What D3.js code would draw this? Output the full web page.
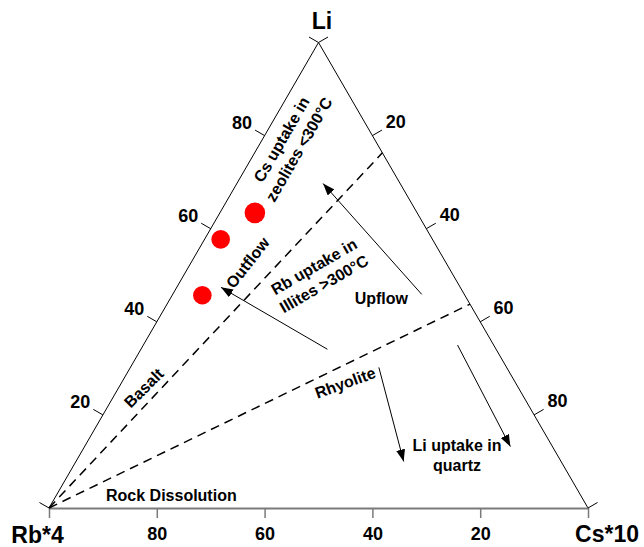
<!DOCTYPE html>
<html>
  <head>
    <meta charset="utf-8">
    <title>Li - Rb - Cs ternary</title>
    <script src="https://d3js.org/d3.v7.min.js"></script>
    <style>
      body { margin: 0; background: #fff; }
      svg { display: block; font-family: "Liberation Sans", Arial, sans-serif; font-weight: bold; }
    </style>
  </head>
  <body>
    <svg id="chart" width="644" height="547"></svg>
    <script>
      // corner names (bottom-left, bottom-right, top)
      const corners = ["Rb*4", "Cs*10", "Li"];
      const tickValues = [0, 20, 40, 60, 80, 100];
      const tickLabels = [20, 40, 60, 80];
      // samples, percent of Li and Cs (Rb is the rest)
      const sampleLi = [63.4, 57.7, 45.7];
      const sampleCs = [6.5, 3.0, 5.6];
      const sampleGroup = ["large", "small", "small"];
      // dashed rock lines, from the Rb corner to the Li-Cs side (Li percent where they meet it)
      const rockLineLi = [76.3, 43.8];
      // process arrows, from -> to
      const arrowFromLi = [45.9, 34.1, 30.2, 35.0];
      const arrowFromCs = [46.2, 34.6, 46.1, 58.3];
      const arrowToLi = [69.7, 47.4, 10.0, 13.2];
      const arrowToCs = [16.0, 8.2, 60.8, 79.0];
      // annotations
      const noteText = [
        ["Cs uptake in", "zeolites <300°C"],
        ["Rb uptake in", "Illites >300°C"],
        ["Outflow"],
        ["Upflow"],
        ["Basalt"],
        ["Rhyolite"],
        ["Li uptake in", "quartz"],
        ["Rock Dissolution"]
      ];
      const noteLi = [78.1, 50.0, 52.7, 45.1, 25.8, 26.9, 11.4, 2.8];
      const noteCs = [5.7, 25.1, 10.5, 39.1, 4.7, 41.5, 70.0, 21.3];
      const noteAngle = [-60, -30, -52, 0, -45, -20, 0, 0];

      svg = d3.select("#chart");
      // x runs along the base, y is Li height
      x = d3.scaleLinear().domain([0, 100]).range([49, 588]);
      y = d3.scaleLinear().domain([0, 100]).range([508, 42.5]);
      rb = d3.scaleLinear().domain([100, 0]).range([49, 588]);
      radius = d3.scaleOrdinal().domain(["large", "small"]).range([10.3, 9.3]);
      function pos(li, cs) { return [x(cs + li / 2), y(li)]; }

      // arrow head
      svg.append("defs").append("marker")
          .attr("id", "head")
          .attr("markerUnits", "userSpaceOnUse")
          .attr("markerWidth", 14)
          .attr("markerHeight", 10)
          .attr("refX", 12)
          .attr("refY", 4.5)
          .attr("orient", "auto")
        .append("path")
          .attr("d", "M0,0L12,4.5L0,9Z")
          .attr("fill", "#000");

      // side edges
      line = d3.line();
      svg.append("path")
        .attr("d", line([pos(0, 0), pos(100, 0), pos(0, 100)]))
        .attr("fill", "none")
        .attr("stroke", "#000")
        .attr("stroke-width", 1);

      // bottom axis (Rb)
      axis = d3.axisBottom(rb)
        .tickValues(tickValues)
        .tickSize(10)
        .tickSizeOuter(0)
        .tickPadding(9)
        .tickFormat(function(d) { return tickLabels.includes(d) ? d : ""; });
      axisGroup = svg.append("g")
        .attr("transform", "translate(0," + y(0) + ")")
        .call(axis);
      axisGroup.attr("font-family", null).attr("font-size", null);
      axisGroup.select(".domain").attr("stroke", "#7a7a7a").attr("stroke-width", 2);
      axisGroup.selectAll(".tick line").attr("stroke", "#7a7a7a").attr("stroke-width", 1.5);
      axisGroup.selectAll(".tick text").attr("fill", "#000").style("font-size", "18px");

      // side ticks: Li on the left, Cs on the right
      sides = [
        { at: function(t) { return pos(t, 0); }, n: [-0.866, -0.5], off: 26 },
        { at: function(t) { return pos(100 - t, t); }, n: [0.866, -0.5], off: 27 }
      ];
      sides.forEach(function(s) {
        g = svg.append("g");
        g.selectAll("line")
            .data(tickValues)
          .enter().append("line")
            .attr("x1", function(d) { return s.at(d)[0]; })
            .attr("y1", function(d) { return s.at(d)[1]; })
            .attr("x2", function(d) { return s.at(d)[0] + s.n[0] * 11; })
            .attr("y2", function(d) { return s.at(d)[1] + s.n[1] * 11; })
            .attr("stroke", "#000");
        g.selectAll("text")
            .data(tickLabels)
          .enter().append("text")
            .attr("x", function(d) { return s.at(d)[0] + s.n[0] * s.off; })
            .attr("y", function(d) { return s.at(d)[1] + s.n[1] * s.off; })
            .attr("text-anchor", "middle")
            .attr("dominant-baseline", "central")
            .style("font-size", "18px")
            .text(function(d) { return d; });
      });

      // corner labels
      cornerPos = [pos(0, 0), pos(0, 100), pos(100, 0)];
      cornerOff = [[-11.5, 27], [19, 26], [3.5, -22]];
      svg.selectAll(".corner")
          .data(corners)
        .enter().append("text")
          .classed("corner", true)
          .attr("x", function(d, i) { return cornerPos[i][0] + cornerOff[i][0]; })
          .attr("y", function(d, i) { return cornerPos[i][1] + cornerOff[i][1]; })
          .attr("text-anchor", "middle")
          .attr("dominant-baseline", "central")
          .style("font-size", "23px")
          .text(function(d) { return d; });

      // dashed rock lines
      svg.selectAll(".rock")
          .data(rockLineLi)
        .enter().append("path")
          .classed("rock", true)
          .attr("d", function(d) { return line([pos(0, 0), pos(d, 100 - d)]); })
          .attr("fill", "none")
          .attr("stroke", "#000")
          .attr("stroke-width", 1.5)
          .attr("stroke-dasharray", "9,6");

      // arrows
      svg.selectAll(".arrow")
          .data(arrowFromLi)
        .enter().append("path")
          .classed("arrow", true)
          .attr("d", function(d, i) {
            return line([pos(d, arrowFromCs[i]), pos(arrowToLi[i], arrowToCs[i])]);
          })
          .attr("stroke", "#000")
          .attr("stroke-width", 1)
          .attr("marker-end", "url(#head)");

      // samples
      svg.selectAll(".sample")
          .data(sampleLi)
        .enter().append("circle")
          .classed("sample", true)
          .attr("cx", function(d, i) { return pos(d, sampleCs[i])[0]; })
          .attr("cy", function(d, i) { return pos(d, sampleCs[i])[1]; })
          .attr("r", function(d, i) { return radius(sampleGroup[i]); })
          .attr("fill", "#ff0000");

      // annotations
      notes = svg.selectAll(".note")
          .data(noteText)
        .enter().append("text")
          .classed("note", true)
          .attr("transform", function(d, i) {
            p = pos(noteLi[i], noteCs[i]);
            return "translate(" + p[0] + "," + p[1] + ") rotate(" + noteAngle[i] + ")";
          })
          .attr("text-anchor", "middle")
          .style("font-size", "16px");
      notes.selectAll("tspan")
          .data(function(d) { return d.map(function(t, j) { return { t: t, j: j, n: d.length }; }); })
        .enter().append("tspan")
          .attr("x", 0)
          .attr("y", function(d) { return (d.j - (d.n - 1) / 2) * 20; })
          .attr("dy", "0.35em")
          .text(function(d) { return d.t; });
    </script>
  </body>
</html>
